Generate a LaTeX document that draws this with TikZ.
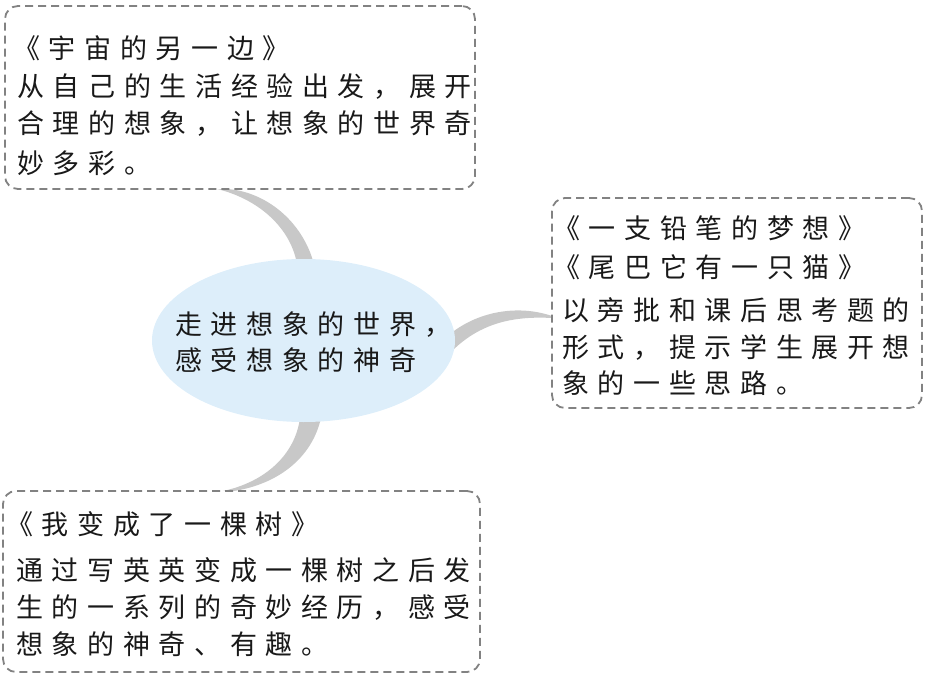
\documentclass[tikz,border=0pt]{standalone}
\usepackage{fontspec}
\newfontfamily\cjk{Noto Sans CJK SC}[LetterSpace=32]
\definecolor{boxline}{RGB}{130,130,130}
\definecolor{branch}{RGB}{200,200,200}
\definecolor{bubble}{RGB}{221,238,250}
\tikzset{
  box/.style={draw=boxline, line width=1.8pt, dash pattern=on 8pt off 5pt, rounded corners=13pt, fill=white, inner sep=0pt},
  txt/.style={anchor=base west, inner sep=0pt, font=\cjk\fontsize{27}{32}\selectfont, text=black!90},
  bubblestyle/.style={ellipse, fill=bubble, inner sep=0pt},
  branchfill/.style={fill=branch}
}
\usetikzlibrary{shapes.geometric}
\begin{document}
\begin{tikzpicture}[x=1pt,y=-1pt]
\useasboundingbox (0,0) rectangle (928,679);
% branches (drawn first)
\fill[branchfill] (217,189) .. controls (255,198) and (290,225) .. (297,264)
  -- (314,264) .. controls (302,220) and (265,192) .. (228,189) -- cycle;
\fill[branchfill] (300,418) .. controls (295,455) and (265,482) .. (223,491)
  -- (234,491) .. controls (278,484) and (312,458) .. (321,418) -- cycle;
\fill[branchfill] (450,334) .. controls (480,310) and (520,305) .. (552,316)
  -- (552,318) .. controls (515,316) and (480,322) .. (450,353) -- cycle;
% boxes
\node[box, minimum width=470pt, minimum height=183pt] (b1) at (240,97.5) {};
\node[box, minimum width=370pt, minimum height=210pt] (b2) at (737,303) {};
\node[box, minimum width=477pt, minimum height=181pt] (b3) at (241.5,581.5) {};
% central bubble
\node[bubblestyle, minimum width=303pt, minimum height=163pt] (c) at (303.5,340.5) {};
% central text
\node[txt] (c1) at (175,334.5) {走进想象的世界，};
\node[txt] (c2) at (175,370.5) {感受想象的神奇};
% top box text
\node[txt] (t1) at (13,58.5) {《宇宙的另一边》};
\node[txt] (t2) at (17,96.5) {从自己的生活经验出发，展开};
\node[txt] (t3) at (17,133.5) {合理的想象，让想象的世界奇};
\node[txt] (t4) at (17,173.5) {妙多彩。};
% right box text
\node[txt] (r1) at (553,238.5) {《一支铅笔的梦想》};
\node[txt] (r2) at (553,277.5) {《尾巴它有一只猫》};
\node[txt] (r3) at (562,320.5) {以旁批和课后思考题的};
\node[txt] (r4) at (562,357.5) {形式，提示学生展开想};
\node[txt] (r5) at (562,393.5) {象的一些思路。};
% bottom box text
\node[txt] (u1) at (6,534.5) {《我变成了一棵树》};
\node[txt] (u2) at (16,580.5) {通过写英英变成一棵树之后发};
\node[txt] (u3) at (16,617.5) {生的一系列的奇妙经历，感受};
\node[txt] (u4) at (16,654.5) {想象的神奇、有趣。};
\end{tikzpicture}
\end{document}
